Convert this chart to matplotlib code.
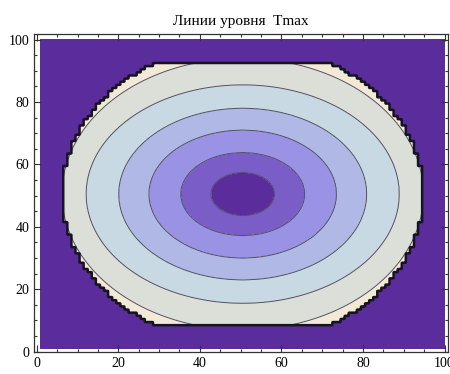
import numpy as np
import matplotlib
matplotlib.use("Agg")
import matplotlib.pyplot as plt
from matplotlib.colors import ListedColormap, BoundaryNorm
from matplotlib.ticker import MultipleLocator

# values
centre = (50.5, 50.5)
contour_levels = [1, 2, 3, 4, 5, 6]
x_radii = [7.8, 15.2, 23.0, 30.4, 38.4, 44.3]   # half-width of each level line
y_radii = [6.9, 13.3, 20.5, 27.5, 35.0, 43.5]   # half-height of each level line
edge_radii = (44.2, 48.0)                       # outer edge of the heated zone
edge_cut = 41.5                                 # flat top and bottom of the zone
band_colors = ["#5b2c9b", "#7b5dc8", "#9a92e4", "#b0b9e6",
               "#c8d9e3", "#dcdfd8", "#f2ead6"]

# sample grid: data points 1..100, drawn cell by cell
xs = np.linspace(1, 100, 496)
X, Y = np.meshgrid(xs, xs)
dx = X - centre[0]
dy = Y - centre[1]

a = np.array(x_radii)
b = np.array(y_radii)
s = np.sqrt((dx[..., None] / a) ** 2 + (dy[..., None] / b) ** 2)
T = np.where(s[..., 0] <= 1, s[..., 0], 0.0)
for k in range(len(a) - 1):
    gk = s[..., k] - 1
    gn = s[..., k + 1] - 1
    m = (gk > 0) & (gn <= 0)
    T = np.where(m, k + 1 + gk / np.where(m, gk - gn, 1), T)
T = np.where(s[..., -1] > 1, len(a) + (s[..., -1] - 1) * 5, T)

# zone edge, taken from the nearest data point so it steps like the grid
cx = np.floor(X + 0.5) - centre[0]
cy = np.floor(Y + 0.5) - centre[1]
inside = ((cx / edge_radii[0]) ** 2 + (cy / edge_radii[1]) ** 2 <= 1) & (np.abs(cy) <= edge_cut)
T = np.where(inside, T, 0.0)

levels = [-1] + contour_levels + [50]
cmap = ListedColormap(band_colors)
norm = BoundaryNorm(levels, cmap.N)

fig = plt.figure(figsize=(4.5, 3.74), dpi=100)
ax = fig.add_axes([0.0762, 0.058, 0.919, 0.852])
ax.contourf(X, Y, T, levels=levels, cmap=cmap, norm=norm)
ax.contour(X, Y, np.where(inside, T, np.nan), levels=contour_levels,
           colors="#505064", linewidths=0.7)
ax.contour(X, Y, inside.astype(float), levels=[0.5], colors="#151520", linewidths=1.8)

ax.set_xlim(-0.6, 100.8)
ax.set_ylim(-0.2, 101.9)
ax.xaxis.set_major_locator(MultipleLocator(20))
ax.yaxis.set_major_locator(MultipleLocator(20))
ax.xaxis.set_minor_locator(MultipleLocator(5))
ax.yaxis.set_minor_locator(MultipleLocator(5))
ax.tick_params(which="both", direction="in", top=True, right=True, color="#333333", width=0.8)
ax.tick_params(which="major", length=5, labelsize=10)
ax.tick_params(which="minor", length=2.5)
for lab in ax.get_xticklabels() + ax.get_yticklabels():
    lab.set_family("Liberation Serif")
for sp in ax.spines.values():
    sp.set_color("#333333")
    sp.set_linewidth(0.9)

ax.set_title("Линии уровня  Tmax", family="Liberation Serif", fontsize=11, pad=6)
fig.savefig("out.png", dpi=100)
